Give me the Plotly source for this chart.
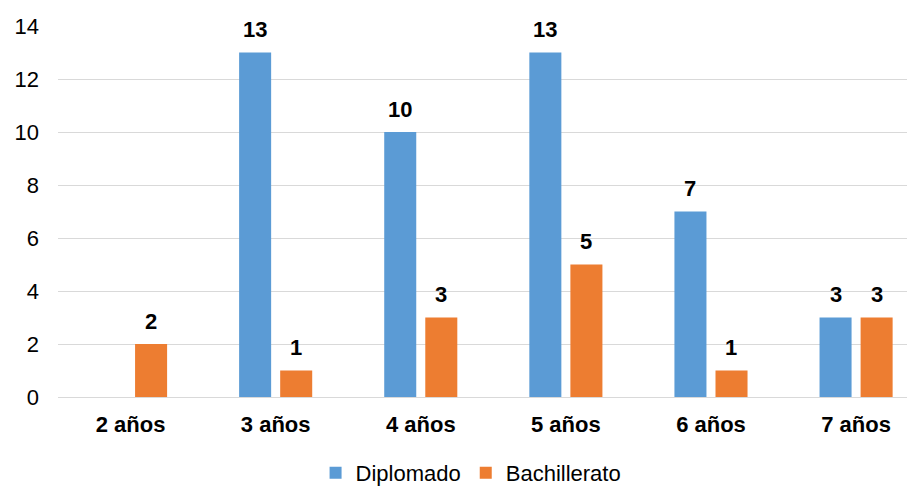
import plotly.graph_objects as go

categories = ["2 años", "3 años", "4 años", "5 años", "6 años", "7 años"]
diplomado = [None, 13, 10, 13, 7, 3]
bachillerato = [2, 1, 3, 5, 1, 3]
y_ticks = [0, 2, 4, 6, 8, 10, 12, 14]

BLUE = "#5B9BD5"
ORANGE = "#ED7D31"
FONT = "Liberation Sans, Arial, sans-serif"

fig = go.Figure()
fig.add_trace(go.Bar(name="Diplomado", x=categories, y=diplomado,
                     marker=dict(color=BLUE, line=dict(width=0))))
fig.add_trace(go.Bar(name="Bachillerato", x=categories, y=bachillerato,
                     marker=dict(color=ORANGE, line=dict(width=0))))

annotations = []
for series, shift in ((diplomado, -20.5), (bachillerato, 20.5)):
    for c, v in zip(categories, series):
        if v is None:
            continue
        annotations.append(dict(x=c, y=v, xref="x", yref="y", text=f"<b>{v}</b>",
                                showarrow=False, xshift=shift, yshift=23,
                                yanchor="middle", xanchor="center",
                                font=dict(family=FONT, size=22, color="black")))

# page has an 8px body margin, so the figure is drawn 8px smaller and offset
fig.update_layout(
    width=907, height=479,
    margin=dict(l=50, r=0, t=18, b=90, autoexpand=False),
    paper_bgcolor="white", plot_bgcolor="white",
    barmode="group", bargap=0.434, bargroupgap=0.22,
    font=dict(family=FONT, color="black"),
    annotations=annotations,
    showlegend=True,
    legend=dict(orientation="h", xref="paper", yref="paper",
                x=0.482, y=-0.205, xanchor="center", yanchor="middle",
                font=dict(family=FONT, size=22, color="black"),
                tracegroupgap=0),
    xaxis=dict(range=[-0.5, 5.406], showgrid=False, showline=False,
               ticks="", tickfont=dict(family=FONT, size=22, color="black", weight="bold"),
               ticklabelstandoff=12),
    yaxis=dict(range=[0, 14], tickvals=y_ticks, showgrid=True, gridcolor="#D9D9D9",
               gridwidth=1, zeroline=True, zerolinecolor="#D9D9D9", zerolinewidth=1,
               showline=False, ticks="", tickfont=dict(family=FONT, size=22, color="black"),
               ticklabelstandoff=18),
)

fig.write_html("out.html")
